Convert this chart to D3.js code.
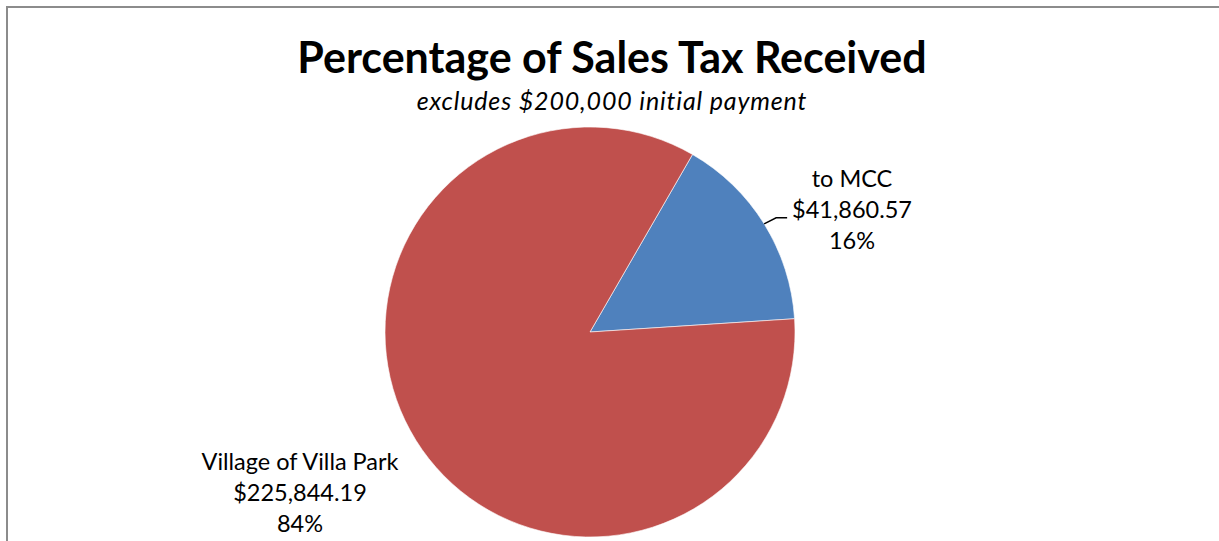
<!DOCTYPE html>
<html lang="en">
<head>
  <meta charset="UTF-8">
  <title>Percentage of Sales Tax Received</title>
  <script src="https://d3js.org/d3.v7.min.js"></script>
  <style>
    body { margin: 0; background: #fff; }
    svg { display: block; }
    .title { font-family: Lato, "Open Sans", sans-serif; font-weight: bold; font-size: 43px; fill: #000; }
    .subtitle { font-family: Lato, "Open Sans", sans-serif; font-style: italic; font-size: 25px; letter-spacing: 0.85px; fill: #000; }
    .label { font-family: Lato, "Open Sans", sans-serif; font-size: 23.5px; fill: #000; }
  </style>
</head>
<body>
  <svg id="chart" width="1219" height="541"></svg>
  <script>
    // data
    const categories = ["to MCC", "Village of Villa Park"];
    const amounts = [41860.57, 225844.19];
    const amountLabels = ["$41,860.57", "$225,844.19"];
    const colors = ["#4F81BD", "#C0504D"];

    const width = 1219, height = 541;
    const cx = 590, cy = 332, radius = 205;
    const firstAngle = 30 * Math.PI / 180; // angle of first slice

    const svg = d3.select("#chart");

    // chart frame (right and bottom edges fall outside the picture)
    svg.append("path")
      .attr("d", `M7,${height + 5} L7,7 L${width + 5},7`)
      .attr("fill", "none")
      .attr("stroke", "#8c8c8c")
      .attr("stroke-width", 2);

    svg.append("text").attr("class", "title")
      .attr("x", 612).attr("y", 73).attr("text-anchor", "middle")
      .text("Percentage of Sales Tax Received");

    svg.append("text").attr("class", "subtitle")
      .attr("x", 612).attr("y", 110).attr("text-anchor", "middle")
      .text("excludes $200,000 initial payment");

    const data = categories.map((c, i) => ({ name: c, value: amounts[i], money: amountLabels[i], color: colors[i] }));
    const total = d3.sum(amounts);

    const pie = d3.pie().sort(null).value(d => d.value)
      .startAngle(firstAngle).endAngle(firstAngle + 2 * Math.PI);
    const arc = d3.arc().innerRadius(0).outerRadius(radius);
    const arcs = pie(data);

    const g = svg.append("g").attr("transform", `translate(${cx},${cy})`);
    g.selectAll("path.slice")
      .data(arcs)
      .enter()
      .append("path")
      .attr("class", "slice")
      .attr("d", arc)
      .attr("fill", d => d.data.color)
      .attr("stroke", "#fff")
      .attr("stroke-width", 0.6);

    // label positions (relative to pie centre)
    const labelPos = [[262, -145], [-290, 138]];
    const lineH = 31;

    arcs.forEach((a, i) => {
      const [lx, ly] = labelPos[i];
      const t = g.append("text").attr("class", "label").attr("text-anchor", "middle");
      const lines = [a.data.name, a.data.money, Math.round(a.data.value / total * 100) + "%"];
      lines.forEach((s, k) => {
        t.append("tspan").attr("x", lx).attr("y", ly + k * lineH).text(s);
      });
    });

    // leader line for the MCC slice
    const a0 = arcs[0];
    const mid = (a0.startAngle + a0.endAngle) / 2;
    const px = radius * Math.sin(mid), py = -radius * Math.cos(mid);
    g.append("path")
      .attr("d", `M${px},${py} L${px + 12},${py - 6} L${px + 23},${py - 6}`)
      .attr("fill", "none")
      .attr("stroke", "#000")
      .attr("stroke-width", 1.5);
  </script>
</body>
</html>
